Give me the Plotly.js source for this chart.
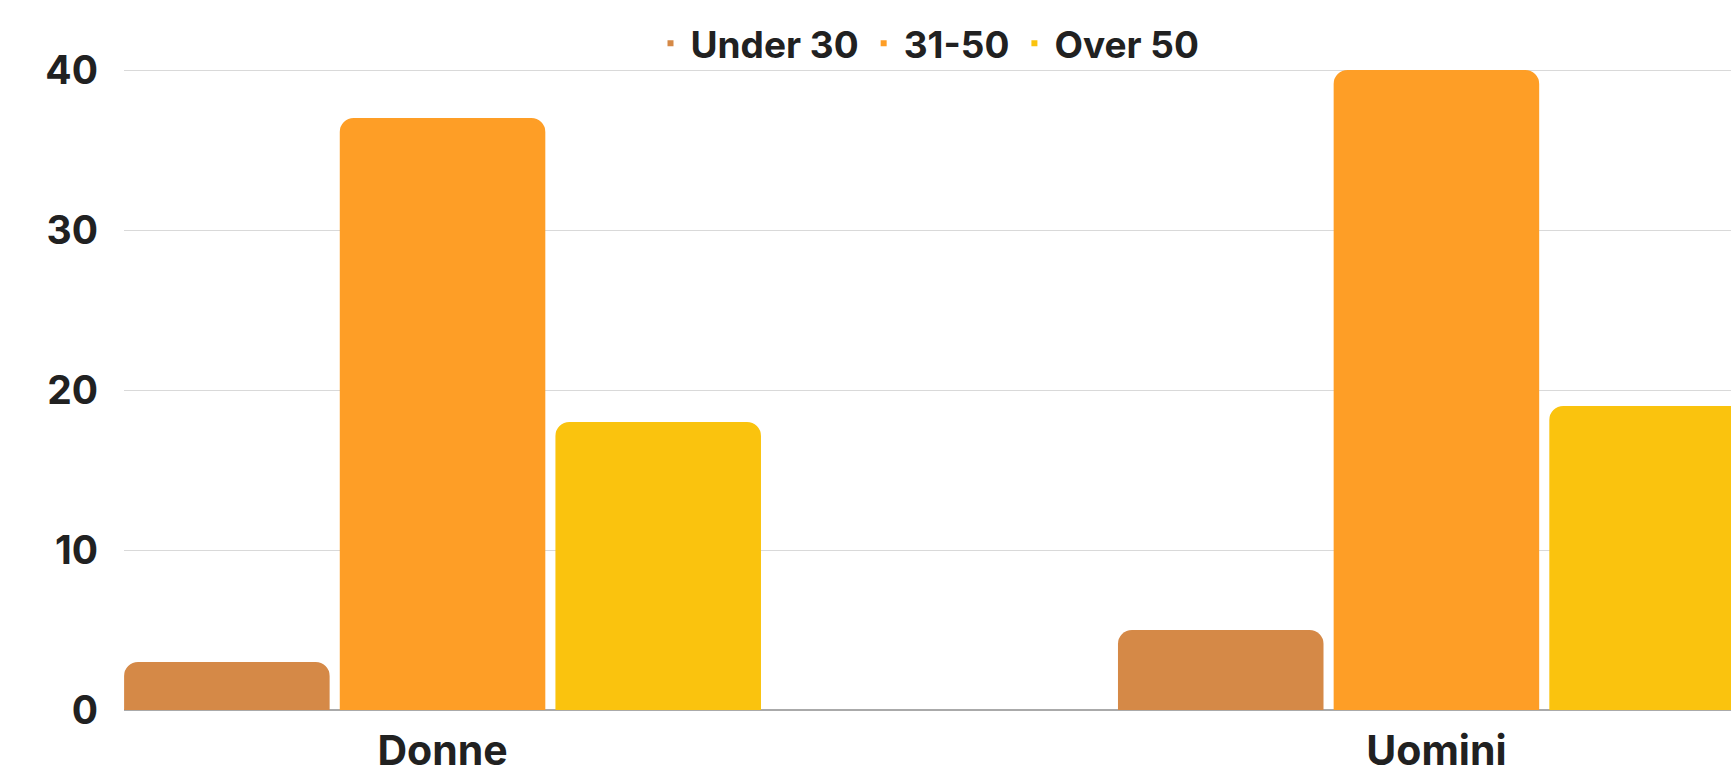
<!DOCTYPE html>
<html>
<head>
<meta charset="utf-8">
<script src="https://cdn.plot.ly/plotly-3.0.1.min.js"></script>
<style>
  html, body { margin: 0; padding: 0; background: #ffffff; }
  #chart { width: 1731px; height: 765px; }
</style>
</head>
<body>
<div id="chart"></div>
<script>
// ---- data ----
const categories = ["Donne", "Uomini"];
const seriesNames = ["Under 30", "31-50", "Over 50"];
const under30 = [3, 5];
const age31to50 = [37, 40];
const over50 = [18, 19];
const yTickValues = [0, 10, 20, 30, 40];

// ---- styles ----
const colors = ["#D58947", "#FE9E26", "#FAC30E"];
const seriesValues = [under30, age31to50, over50];
const fontFamily = "Inter, 'Open Sans', 'DejaVu Sans', sans-serif";
const textColor = "#212121";

const traces = [];
seriesValues.forEach((vals, i) => {
  traces.push({
    type: "bar",
    name: seriesNames[i],
    x: categories,
    y: vals,
    marker: { color: colors[i], cornerradius: 14 },
    showlegend: false,
    hoverinfo: "x+y+name"
  });
});
// legend-only entries with small square markers
seriesValues.forEach((vals, i) => {
  traces.push({
    type: "scatter",
    mode: "markers",
    name: seriesNames[i],
    x: [null],
    y: [null],
    marker: { symbol: "square", size: 6, color: colors[i] },
    showlegend: true,
    hoverinfo: "skip"
  });
});

const layout = {
  width: 1731,
  height: 765,
  margin: { l: 124, r: 0, t: 60, b: 55 },
  paper_bgcolor: "#ffffff",
  plot_bgcolor: "#ffffff",
  font: { family: fontFamily, color: textColor, size: 38, weight: 700 },
  barmode: "group",
  bargap: 0.349,
  bargroupgap: 0.047,
  showlegend: true,
  legend: {
    orientation: "h",
    x: 0.5,
    xanchor: "center",
    y: 1.025,
    yanchor: "middle",
    font: { family: fontFamily, size: 37, color: textColor, weight: 700 },
    itemwidth: 30,
    bgcolor: "rgba(0,0,0,0)"
  },
  xaxis: {
    type: "category",
    range: [-0.3205, 1.2964],
    showgrid: false,
    showline: false,
    zeroline: false,
    ticks: "",
    tickfont: { family: fontFamily, size: 41, color: textColor, weight: 700 },
    ticklabelstandoff: 13,
    fixedrange: true
  },
  yaxis: {
    range: [0, 40.625],
    tickvals: yTickValues,
    ticktext: yTickValues.map(String),
    showgrid: true,
    gridcolor: "#d9d9d9",
    gridwidth: 1,
    zeroline: true,
    zerolinecolor: "#aaaaaa",
    zerolinewidth: 1.5,
    showline: false,
    ticks: "",
    tickfont: { family: fontFamily, size: 39, color: textColor, weight: 700 },
    ticklabelstandoff: 25,
    fixedrange: true
  }
};

Plotly.newPlot("chart", traces, layout, { displayModeBar: false, staticPlot: true });
</script>
</body>
</html>
